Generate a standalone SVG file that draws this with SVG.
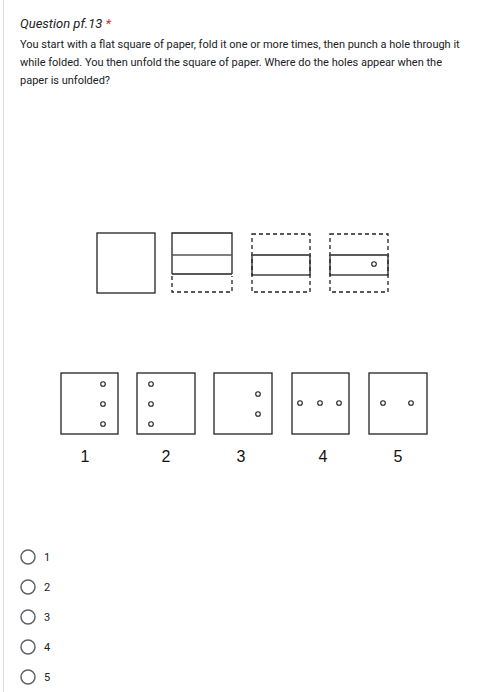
<svg xmlns="http://www.w3.org/2000/svg" width="477" height="692" viewBox="0 0 477 692">
<style>
.t{font-family:Roboto,"Liberation Sans",sans-serif;fill:#202124}
.b{fill:none;stroke:#222;stroke-width:1.3}
.g{fill:none;stroke:#555;stroke-width:1.5}
.d{fill:none;stroke:#222;stroke-width:1.3;stroke-dasharray:4,3}
.h{fill:#fff;stroke:#222;stroke-width:1.1}
.n{font-family:"Liberation Sans",Arial,sans-serif;font-size:16px;fill:#111}
.r{fill:#fff;stroke:#5f6368;stroke-width:1.5}
.o{font-family:Roboto,"Liberation Sans",sans-serif;font-size:11px;fill:#202124}
</style>
<rect width="477" height="692" fill="#fff"/>
<line x1="3.5" y1="0" x2="3.5" y2="692" stroke="#dadce0" stroke-width="1"/>
<text class="t" x="20" y="28" font-size="13" font-style="italic">Question pf.13 <tspan fill="#d93025">*</tspan></text>
<text class="t" x="20" y="48" font-size="11">You start with a flat square of paper, fold it one or more times, then punch a hole through it</text>
<text class="t" x="20" y="66" font-size="11">while folded. You then unfold the square of paper. Where do the holes appear when the</text>
<text class="t" x="20" y="84" font-size="11">paper is unfolded?</text>
<g id="step1"><rect class="b" x="97" y="233" width="58" height="60"/></g>
<g id="step2">
<path class="b" d="M172 274V233H232V274"/>
<line class="g" x1="172" y1="255" x2="232" y2="255"/>
<line class="b" x1="172" y1="274" x2="232" y2="274"/>
<path class="d" d="M172 276V292H232V276"/>
</g>
<g id="step3">
<rect class="d" x="252" y="234" width="58" height="58"/>
<rect class="b" x="252" y="255" width="58" height="20" fill="#fff"/>
<line class="g" x1="252" y1="255" x2="310" y2="255"/>
</g>
<g id="step4">
<rect class="d" x="330" y="234" width="58" height="58"/>
<rect class="b" x="330" y="255" width="58" height="20" fill="#fff"/>
<line class="g" x1="330" y1="255" x2="388" y2="255"/>
<circle class="h" cx="374" cy="264" r="2.3"/>
</g>
<g id="opt1"><rect class="b" x="61" y="373" width="57" height="61"/>
<circle class="h" cx="103" cy="384" r="2.3"/><circle class="h" cx="103" cy="404" r="2.3"/><circle class="h" cx="103" cy="424" r="2.3"/>
<text class="n" x="85" y="462" text-anchor="middle">1</text></g>
<g id="opt2"><rect class="b" x="137" y="373" width="58" height="61"/>
<circle class="h" cx="151" cy="384" r="2.3"/><circle class="h" cx="151" cy="404" r="2.3"/><circle class="h" cx="151" cy="424" r="2.3"/>
<text class="n" x="166" y="462" text-anchor="middle">2</text></g>
<g id="opt3"><rect class="b" x="214" y="373" width="58" height="61"/>
<circle class="h" cx="258" cy="394" r="2.3"/><circle class="h" cx="258" cy="414" r="2.3"/>
<text class="n" x="241" y="462" text-anchor="middle">3</text></g>
<g id="opt4"><rect class="b" x="292" y="373" width="57" height="61"/>
<circle class="h" cx="300" cy="403" r="2.3"/><circle class="h" cx="320" cy="403" r="2.3"/><circle class="h" cx="339" cy="403" r="2.3"/>
<text class="n" x="323" y="462" text-anchor="middle">4</text></g>
<g id="opt5"><rect class="b" x="369" y="373" width="58" height="61"/>
<circle class="h" cx="383" cy="403" r="2.3"/><circle class="h" cx="411" cy="403" r="2.3"/>
<text class="n" x="398" y="462" text-anchor="middle">5</text></g>
<g id="radios">
<circle class="r" cx="28" cy="557" r="7"/><text class="o" x="44" y="561">1</text>
<circle class="r" cx="28" cy="587" r="7"/><text class="o" x="44" y="591">2</text>
<circle class="r" cx="28" cy="617" r="7"/><text class="o" x="44" y="621">3</text>
<circle class="r" cx="28" cy="647" r="7"/><text class="o" x="44" y="651">4</text>
<circle class="r" cx="28" cy="677" r="7"/><text class="o" x="44" y="681">5</text>
</g>
</svg>
